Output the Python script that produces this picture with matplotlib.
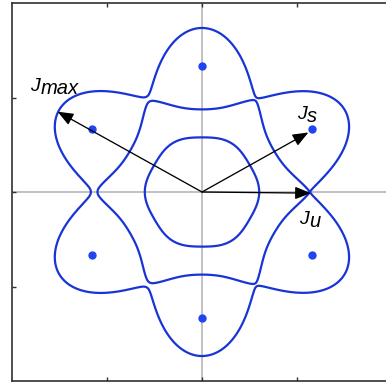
import numpy as np
import matplotlib.pyplot as plt

# maxima of the band (blue dots), on a ring
peak_angles_deg = [30, 90, 150, 210, 270, 330]
peak_radius = 1.335

# ring of lobes (data units)
ring_mid = 1.22      # mean radius of the lobe ring
ring_amp = 0.085     # ring centre: 1.305 at the peaks, 1.135 at the saddles
lobe_half = 0.43     # half thickness of a lobe along its peak direction
lobe_pow = 1.15      # how fast the lobes narrow toward the saddles
pinch_gap = 0.035    # half gap at the left saddle (right one closes)

# inner rounded hexagon
inner_r = 0.59
inner_amp = 0.012

# arrows from the origin and their labels (data units)
arrow_names = ['max', 's', 'u']
arrow_tips = [(-1.52, 0.85), (1.12, 0.63), (1.145, -0.012)]
label_pos = [(-1.81, 1.065), (1.00, 0.77), (1.02, -0.335)]

line_col = '#1934d6'
dot_col = '#1f44f2'

ang = np.deg2rad(peak_angles_deg)
px = peak_radius * np.cos(ang)
py = peak_radius * np.sin(ang)

g = np.linspace(-2.05, 2.05, 1501)
X, Y = np.meshgrid(g, g)
R = np.hypot(X, Y)
T = np.arctan2(Y, X)

Rc = ring_mid - ring_amp * np.cos(6 * T)
h2 = lobe_half ** 2 * (np.sin(3 * T) ** 2) ** lobe_pow
e2 = pinch_gap ** 2 * (1 - np.cos(T)) / 2
F_ring = h2 + e2 - (R - Rc) ** 2 + 1e-6
F_inner = R - (inner_r + inner_amp * np.cos(6 * T))

fig = plt.figure(figsize=(3.86, 3.87), dpi=100)
ax = fig.add_axes([12 / 386, 6 / 387, 380 / 386, 378 / 387])

ax.axhline(0, color='#bcbcbc', lw=1.3, zorder=0)
ax.axvline(0, color='#bcbcbc', lw=1.3, zorder=0)

ax.contour(X, Y, F_ring, levels=[0], colors=line_col, linewidths=1.6,
           linestyles='solid')
ax.contour(X, Y, F_inner, levels=[0], colors=line_col, linewidths=1.6,
           linestyles='solid')
ax.plot(px, py, 'o', color=dot_col, ms=5, zorder=3)

for name, tip, pos in zip(arrow_names, arrow_tips, label_pos):
    ax.annotate('', xy=tip, xytext=(0, 0),
                arrowprops=dict(arrowstyle='-|>,head_length=0.95,head_width=0.38',
                                mutation_scale=10, lw=0.95, color='k',
                                shrinkA=0, shrinkB=0), zorder=4)
    t = ax.text(pos[0], pos[1], 'J', fontsize=14, style='italic',
                family='Liberation Sans', ha='left', va='baseline')
    ax.annotate(name, xy=(1, 0), xycoords=t, xytext=(0.5, -2.2),
                textcoords='offset points', fontsize=14.5, style='italic',
                family='Liberation Sans', ha='left', va='bottom')

ax.set_xlim(-2, 2)
ax.set_ylim(-2, 2)
ax.set_xticks([-1, 0, 1])
ax.set_yticks([-1, 0, 1])
ax.tick_params(direction='in', length=3, width=1, top=True, right=True,
               labelbottom=False, labelleft=False, color='#303030')
for s in ax.spines.values():
    s.set_color('#303030')
    s.set_linewidth(1.2)

fig.savefig('out.png', dpi=100)
